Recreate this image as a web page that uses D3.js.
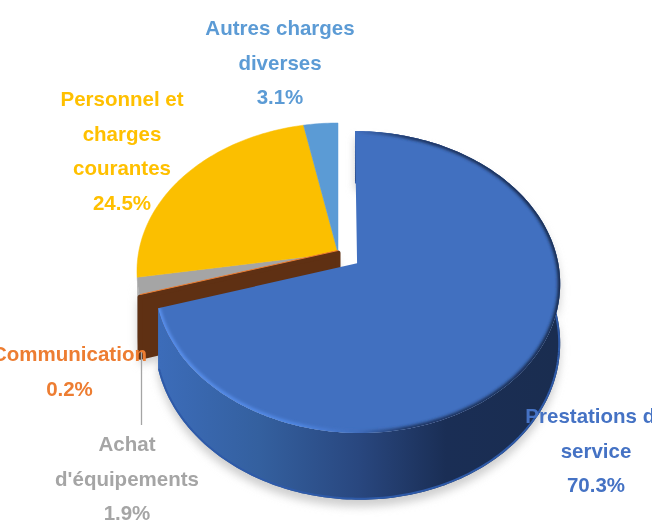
<!DOCTYPE html>
<html>
<head>
<meta charset="utf-8">
<style>
    html, body { margin: 0; padding: 0; background: #fff; }
    text { font-family: "Liberation Sans Narrow", "Liberation Sans", sans-serif; font-weight: 700; text-anchor: middle; }
</style>
<script src="https://cdn.jsdelivr.net/npm/d3@7"></script>
</head>
<body>
<svg id="chart" width="652" height="520"></svg>
<script>
(function (d3) {
    'use strict';

    // data, clockwise from 12 o'clock
    var categories = ['Prestations de service', 'Communication', "Achat d'équipements", 'Personnel et charges courantes', 'Autres charges diverses'],
        shares = [70.3, 0.2, 1.9, 24.5, 3.1],
        labelLines = [
            ['Prestations de', 'service'],
            ['Communication'],
            ['Achat', "d'équipements"],
            ['Personnel et', 'charges', 'courantes'],
            ['Autres charges', 'diverses']
        ];

    // styling and layout
    var faceColors = ['#4170c0', '#ed7d31', '#a5a5a5', '#fbbf00', '#5b9bd5'],
        textColors = ['#4472c4', '#ed7d31', '#a5a5a5', '#ffc000', '#5b9bd5'],
        explode = [0.118, 0, 0, 0, 0],
        labelX = [596, 69.5, 127, 122, 280],
        labelBaseline = [423, 361, 451, 106, 35],
        lineStep = 34.5,
        CX = 338,
        CY = 253,
        RX = 199.5,
        RY = 146,
        PERSPECTIVE = 0.123,
        DEPTH = 58;

    var svg = d3.select('#chart'),
        defs = svg.append('defs'),
        pieLayout = d3.pie().sort(null).value(function (d) { return d; }),
        arcs = pieLayout(shares),
        line = d3.line();

    // perspective projection of a point of the unit disc, lifted by drop px
    function project(angle, radius, shift, drop) {
        var u = radius * Math.sin(angle) + shift * Math.sin(shift ? shift.angle : 0),
            v = -radius * Math.cos(angle),
            w;
        if (shift) {
            u = radius * Math.sin(angle) + shift.size * Math.sin(shift.angle);
            v = -radius * Math.cos(angle) - shift.size * Math.cos(shift.angle);
        }
        w = 1 - PERSPECTIVE * v;
        return [CX + RX * u / w, CY + RY * v / w + (drop ? drop / w : 0)];
    }

    function shiftOf(i) {
        return { size: explode[i], angle: (arcs[i].startAngle + arcs[i].endAngle) / 2 };
    }

    function rimPoints(i, from, to, drop) {
        var steps = Math.max(2, Math.ceil((to - from) / 0.02));
        return d3.range(steps + 1).map(function (k) {
            return project(from + (to - from) * k / steps, 1, shiftOf(i), drop);
        });
    }

    function facePath(i) {
        var centre = project(0, 0, shiftOf(i), 0);
        return line([centre].concat(rimPoints(i, arcs[i].startAngle, arcs[i].endAngle, 0))) + 'Z';
    }

    // outer wall between the rim and the same rim pushed down
    function wallPath(i, from, to) {
        return line(rimPoints(i, from, to, 0).concat(rimPoints(i, from, to, DEPTH).reverse())) + 'Z';
    }

    // flat face under the radial edge of a slice
    function radialWallPath(i, angle) {
        var s = shiftOf(i);
        return line([
            project(angle, 0, s, 0),
            project(angle, 1, s, 0),
            project(angle, 1, s, DEPTH),
            project(angle, 0, s, DEPTH)
        ]) + 'Z';
    }

    function addBlur(id, dev) {
        defs.append('filter')
            .attr('id', id)
            .attr('x', '-20%').attr('y', '-20%')
            .attr('width', '140%').attr('height', '140%')
            .append('feGaussianBlur')
            .attr('stdDeviation', dev);
    }

    function addGradient(id, x1, x2, stops) {
        var g = defs.append('linearGradient')
            .attr('id', id)
            .attr('gradientUnits', 'userSpaceOnUse')
            .attr('x1', x1).attr('x2', x2)
            .attr('y1', 0).attr('y2', 0);
        stops.forEach(function (s) {
            g.append('stop')
                .attr('offset', s[0])
                .attr('stop-color', s[1])
                .attr('stop-opacity', s[2] === undefined ? 1 : s[2]);
        });
    }

    addBlur('shadowBlur', 4);
    addBlur('bevelBlur', 1.4);
    addBlur('edgeBlur', 0.7);
    addBlur('textBlur', 0.35);

    addGradient('blueWall', 160, 557, [
        [0, '#3c6cb9'],
        [0.25, '#34609f'],
        [0.5, '#29477f'],
        [0.72, '#1a2e55'],
        [1, '#1a2d50']
    ]);
    addGradient('blueBevel', 160, 557, [
        [0, '#5a90ec'],
        [0.35, '#4f86e2'],
        [0.5, '#3f6cbb'],
        [0.62, '#1d3563'],
        [1, '#16294c']
    ]);

    var whole = d3.range(arcs.length),
        blueEnd = arcs[0].endAngle;

    defs.append('clipPath').attr('id', 'blueFaceClip')
        .append('path').attr('d', facePath(0));
    defs.append('clipPath').attr('id', 'blueWallClip')
        .append('path').attr('d', wallPath(0, 0, blueEnd));

    // soft shadow on the page
    svg.append('g')
        .attr('filter', 'url(#shadowBlur)')
        .attr('transform', 'translate(0,7)')
        .selectAll('path')
        .data([wallPath(0, 0, blueEnd), wallPath(2, arcs[2].startAngle, arcs[2].endAngle), radialWallPath(1, arcs[1].startAngle)])
        .join('path')
        .attr('d', function (d) { return d; })
        .attr('fill', '#cfcfcf');

    // walls of the slices left in place
    svg.append('path')
        .attr('d', wallPath(2, arcs[2].startAngle, arcs[2].endAngle))
        .attr('fill', '#b4b4b4');

    // faces of the slices left in place
    svg.append('g')
        .selectAll('path')
        .data(whole.filter(function (i) { return i > 0; }))
        .join('path')
        .attr('d', facePath)
        .attr('fill', function (i) { return faceColors[i]; })
        .attr('stroke', function (i) { return faceColors[i]; })
        .attr('stroke-width', 0.5);

    // cut face of the thin slice, seen through the opening
    svg.append('path')
        .attr('d', radialWallPath(1, arcs[1].startAngle))
        .attr('fill', '#5f3013')
        .attr('stroke', '#5f3013')
        .attr('stroke-width', 5)
        .attr('stroke-linejoin', 'round');
    svg.append('path')
        .attr('d', line([project(arcs[1].startAngle, 0, shiftOf(1), 0), project(arcs[1].startAngle, 1, shiftOf(1), 0)]))
        .attr('transform', 'translate(0,-2.5)')
        .attr('fill', 'none')
        .attr('stroke', '#ed7d31')
        .attr('stroke-width', 1);

    // leader line of the small grey slice
    svg.append('line')
        .attr('x1', 141.5).attr('x2', 141.5)
        .attr('y1', 352).attr('y2', 425)
        .attr('stroke', '#a5a5a5')
        .attr('stroke-width', 1.3);

    // exploded slice
    svg.append('path')
        .attr('d', wallPath(0, 0, blueEnd))
        .attr('fill', 'url(#blueWall)');
    svg.append('path')
        .attr('d', line(rimPoints(0, 0, blueEnd, DEPTH)))
        .attr('clip-path', 'url(#blueWallClip)')
        .append('title').text(categories[0]);
    svg.select('path[clip-path="url(#blueWallClip)"]')
        .attr('fill', 'none')
        .attr('stroke', '#2f5aa8')
        .attr('stroke-width', 4)
        .attr('filter', 'url(#edgeBlur)');
    svg.append('path')
        .attr('d', facePath(0))
        .attr('fill', faceColors[0]);
    svg.append('g')
        .attr('clip-path', 'url(#blueFaceClip)')
        .append('path')
        .attr('d', line(rimPoints(0, 0, blueEnd, 0)))
        .attr('fill', 'none')
        .attr('stroke', 'url(#blueBevel)')
        .attr('stroke-width', 5)
        .attr('filter', 'url(#bevelBlur)');

    // labels
    var labels = svg.append('g')
        .attr('filter', 'url(#textBlur)')
        .selectAll('text')
        .data(whole)
        .join('text')
        .attr('fill', function (i) { return textColors[i]; })
        .style('font-size', '20.5px');

    labels.selectAll('tspan')
        .data(function (i) {
            return labelLines[i].concat(d3.format('.1f')(shares[i]) + '%').map(function (t, n) {
                return { text: t, x: labelX[i], y: labelBaseline[i] + n * lineStep };
            });
        })
        .join('tspan')
        .attr('x', function (d) { return d.x; })
        .attr('y', function (d) { return d.y; })
        .text(function (d) { return d.text; });
}(window.d3));
</script>
</body>
</html>
